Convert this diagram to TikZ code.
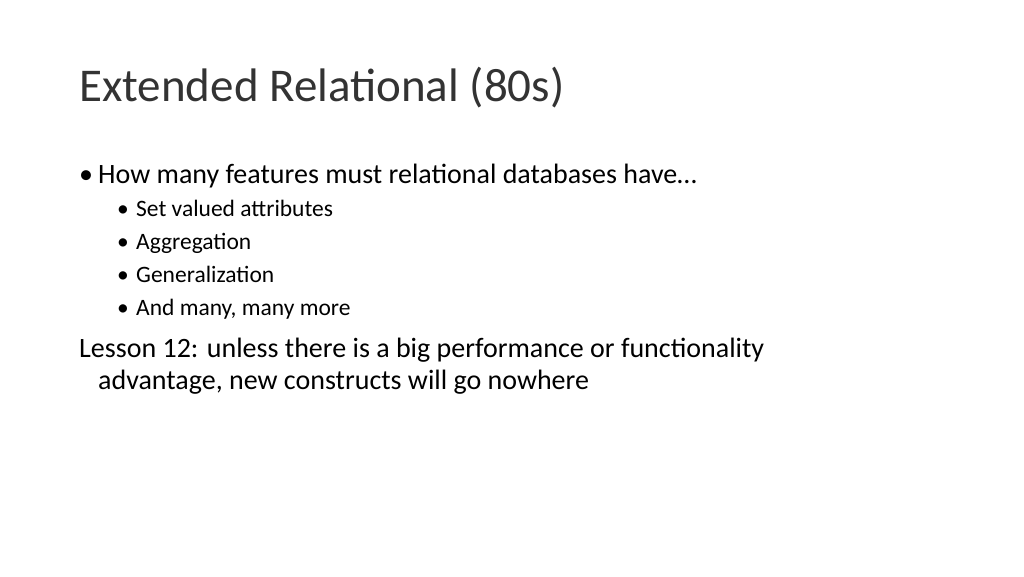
\documentclass[tikz,border=0pt]{standalone}
\usepackage{fontspec}
\setmainfont{Carlito}
\begin{document}
\begin{tikzpicture}[x=1pt,y=-1pt,
  t/.style={anchor=base west,inner sep=0pt,text=black}]
\useasboundingbox[fill=white] (0,0) rectangle (1024,576);
\node[t,font=\fontsize{47}{50}\selectfont,text=black!80] (title) at (79,101) {Extended Relational (80s)};
\node[t,font=\fontsize{28}{30}\selectfont] (b0) at (79,183) {•};
\node[t,font=\fontsize{28}{30}\selectfont] (l1) at (98,183) {How many features must relational databases have…};
\foreach \y/\s [count=\i] in {216/Set valued attributes,249/Aggregation,282/Generalization,315/{And many, many more}}{
  \node[t,font=\fontsize{23.5}{26}\selectfont] (d\i) at (117,\y) {•};
  \node[t,font=\fontsize{23.5}{26}\selectfont] (s\i) at (136,\y) {\s};
}
\node[t,font=\fontsize{28}{30}\selectfont] (les1) at (79,357) {Lesson 12: unless there is a big performance or functionality};
\node[t,font=\fontsize{28}{30}\selectfont] (les2) at (98,389) {advantage, new constructs will go nowhere};
\end{tikzpicture}
\end{document}
